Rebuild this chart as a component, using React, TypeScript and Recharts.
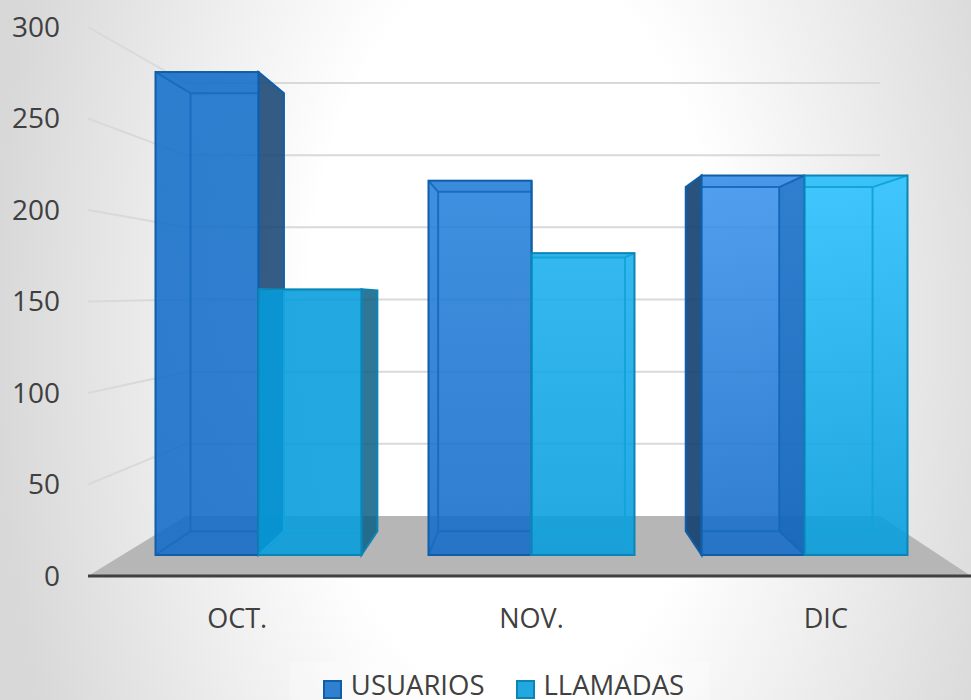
import { ComposedChart, Bar, Line, XAxis, YAxis, Legend, CartesianGrid } from 'recharts';

const categories = ['OCT.', 'NOV.', 'DIC'];
const usuarios = [280, 217, 220];
const llamadas = [154, 175, 220];
const yTicks = [0, 50, 100, 150, 200, 250, 300];

const chartData = categories.map((name, i) => ({ name, USUARIOS: usuarios[i], LLAMADAS: llamadas[i] }));

const FONT = '"Open Sans", sans-serif';
const TEXT = '#404040';
const GRID = '#d9d9d9';

// perspective of the fake 3D box
const VP_X = 532;
const VP_Y = 300;
const DEPTH = 0.907;

const usuariosStyle = {
  top: ['#136fca', '#2581dc', '#3a92ee'],
  bottom: ['#136bc8', '#136bc8', '#136bc8'],
  legend: '#2f80d0',
  line: '#0f5ea8',
  inner: '#1a6cc0',
  side: '#123f70',
};
const llamadasStyle = {
  top: ['#049cdc', '#18aeec', '#28c1ff'],
  bottom: ['#049cdc', '#049cdc', '#049cdc'],
  legend: '#22a8e0',
  line: '#0a85b5',
  inner: '#14a4dc',
  side: '#0b5f85',
};

function Box(props: any) {
  const { x, y, width, height, index, style, id, leftOverlap } = props;
  const px = (v: number) => VP_X + (v - VP_X) * DEPTH;
  const py = (v: number) => VP_Y + (v - VP_Y) * DEPTH;
  const x2 = x + width;
  const y2 = y + height;
  const bx = px(x);
  const bx2 = px(x2);
  const by = py(y);
  const by2 = py(y2);
  const leftOut = bx < x;
  const rightOut = bx2 > x2;
  const hideLeft = leftOut && leftOverlap;
  const lineLeft = Math.max(bx, x);
  const lineRight = Math.min(bx2, x2);
  const fill = `url(#${id}${index})`;
  const pts = (a: number[][]) => a.map((p) => p.join(',')).join(' ');
  return (
    <g>
      {rightOut && (
        <polygon
          points={pts([[x2, y], [bx2, by], [bx2, by2], [x2, y2]])}
          fill={style.side}
          fillOpacity={0.85}
          stroke={style.line}
          strokeWidth={2}
        />
      )}
      {leftOut && !leftOverlap && (
        <polygon
          points={pts([[x, y], [bx, by], [bx, by2], [x, y2]])}
          fill={style.side}
          fillOpacity={0.9}
          stroke={style.line}
          strokeWidth={2}
        />
      )}
      {hideLeft && (
        <polygon points={pts([[x, y], [bx, by], [bx, by2], [x, y2]])} fill="#0f5fb0" fillOpacity={0.5} />
      )}
      <rect x={x} y={y} width={width} height={height} fill={fill} fillOpacity={0.88} />
      <g fill="none" stroke={style.inner} strokeWidth={2}>
        <line x1={lineLeft} y1={by} x2={lineRight} y2={by} />
        <line x1={lineLeft} y1={by2} x2={lineRight} y2={by2} />
        {!leftOut && <line x1={bx} y1={by} x2={bx} y2={by2} />}
        {!rightOut && <line x1={bx2} y1={by} x2={bx2} y2={by2} />}
        {!leftOut && <line x1={x} y1={y} x2={bx} y2={by} />}
        {!rightOut && <line x1={x2} y1={y} x2={bx2} y2={by} />}
        {!leftOut && <line x1={x} y1={y2} x2={bx} y2={by2} />}
        {!rightOut && <line x1={x2} y1={y2} x2={bx2} y2={by2} />}
      </g>
      <polygon
        points={pts([[x, y], [x2, y], [lineRight, by], [lineLeft, by]])}
        fill={style.inner}
        fillOpacity={0.12}
      />
      <rect x={x} y={y} width={width} height={height} fill="none" stroke={style.line} strokeWidth={2} />
    </g>
  );
}

// one grid line turned into side wall + back wall, the 0 line becomes the floor
function wallLine(props: any) {
  const y = props.y1;
  const backY = 61.7 + 0.7887 * y;
  if (y > 570) {
    return <polygon key={props.key} points={`88,${y} 186,${backY} 880,${backY} 971,${y}`} fill="#b6b6b6" />;
  }
  return (
    <g key={props.key}>
      <line x1={88} y1={y} x2={186} y2={backY} stroke={GRID} strokeWidth={2} />
      <line x1={186} y1={backY} x2={880} y2={backY} stroke={GRID} strokeWidth={2} />
    </g>
  );
}

function LegendBox(props: any) {
  const colors: any = { USUARIOS: usuariosStyle, LLAMADAS: llamadasStyle };
  return (
    <div
      style={{
        width: 420,
        height: 38,
        boxSizing: 'border-box',
        paddingLeft: 7,
        background: 'rgba(255,255,255,0.25)',
        display: 'flex',
        justifyContent: 'center',
        alignItems: 'flex-end',
        gap: 31,
        fontFamily: FONT,
        fontSize: 27.5,
        lineHeight: '30px',
        color: TEXT,
      }}
    >
      {props.payload
        .filter((item: any) => item.type !== 'none')
        .map((item: any) => (
          <div key={item.value} style={{ display: 'flex', alignItems: 'center', gap: 9, height: 30 }}>
            <span
              style={{
                boxSizing: 'border-box',
                width: 19,
                height: 19,
                marginTop: 8,
                background: colors[item.value].legend,
                border: `2px solid ${colors[item.value].line}`,
              }}
            />
            <span>{item.value}</span>
          </div>
        ))}
    </div>
  );
}

export default function App() {
  return (
    <div
      style={{
        position: 'absolute',
        left: 0,
        top: 0,
        width: 971,
        height: 700,
        overflow: 'hidden',
        background: 'radial-gradient(ellipse 560px 1000px at 515px 330px, #ffffff 37%, #d8d8d8 93%)',
      }}
    >
      <ComposedChart
        width={971}
        height={700}
        data={chartData}
        barSize={103}
        barGap={0}
        margin={{ top: 27, right: 0, bottom: 0, left: 0 }}
      >
        <defs>
          {categories.map((c, i) => (
            <linearGradient key={`u${c}`} id={`usuarios${i}`} x1="0" y1="0" x2="0" y2="1">
              <stop offset="0%" stopColor={usuariosStyle.top[i]} />
              <stop offset="100%" stopColor={usuariosStyle.bottom[i]} />
            </linearGradient>
          ))}
          {categories.map((c, i) => (
            <linearGradient key={`l${c}`} id={`llamadas${i}`} x1="0" y1="0" x2="0" y2="1">
              <stop offset="0%" stopColor={llamadasStyle.top[i]} />
              <stop offset="100%" stopColor={llamadasStyle.bottom[i]} />
            </linearGradient>
          ))}
        </defs>
        <CartesianGrid horizontal={wallLine} vertical={false} horizontalValues={yTicks} stroke={GRID} />
        <YAxis
          width={88}
          domain={[0, 300]}
          ticks={yTicks}
          axisLine={false}
          tickLine={false}
          tickMargin={22}
          tick={{ fontSize: 28, fontFamily: FONT, fill: TEXT }}
        />
        <XAxis
          dataKey="name"
          height={86}
          tickLine={false}
          axisLine={{ stroke: '#404040', strokeWidth: 3 }}
          tick={{ fontSize: 27, fontFamily: FONT, fill: TEXT, dx: 2 }}
          tickMargin={27}
        />
        <XAxis dataKey="name" xAxisId="bars" hide padding={{ left: 33.5, right: 30.5 }} />
        <YAxis yAxisId="bars" hide domain={[-12.17, 306.1]} allowDataOverflow />
        <Legend
          verticalAlign="bottom"
          height={38}
          itemSorter={null}
          content={<LegendBox />}
          wrapperStyle={{ left: 290, bottom: 0, width: 420, height: 38 }}
        />
        {/* invisible, only there so the labelled axis has a series and draws its ticks */}
        <Line dataKey="USUARIOS" stroke="none" dot={false} activeDot={false} legendType="none" isAnimationActive={false} />
        <Bar
          dataKey="USUARIOS"
          xAxisId="bars"
          yAxisId="bars"
          fill={usuariosStyle.legend}
          isAnimationActive={false}
          shape={(p: any) => <Box {...p} style={usuariosStyle} id="usuarios" />}
        />
        <Bar
          dataKey="LLAMADAS"
          xAxisId="bars"
          yAxisId="bars"
          fill={llamadasStyle.legend}
          isAnimationActive={false}
          shape={(p: any) => <Box {...p} style={llamadasStyle} id="llamadas" leftOverlap />}
        />
      </ComposedChart>
    </div>
  );
}
